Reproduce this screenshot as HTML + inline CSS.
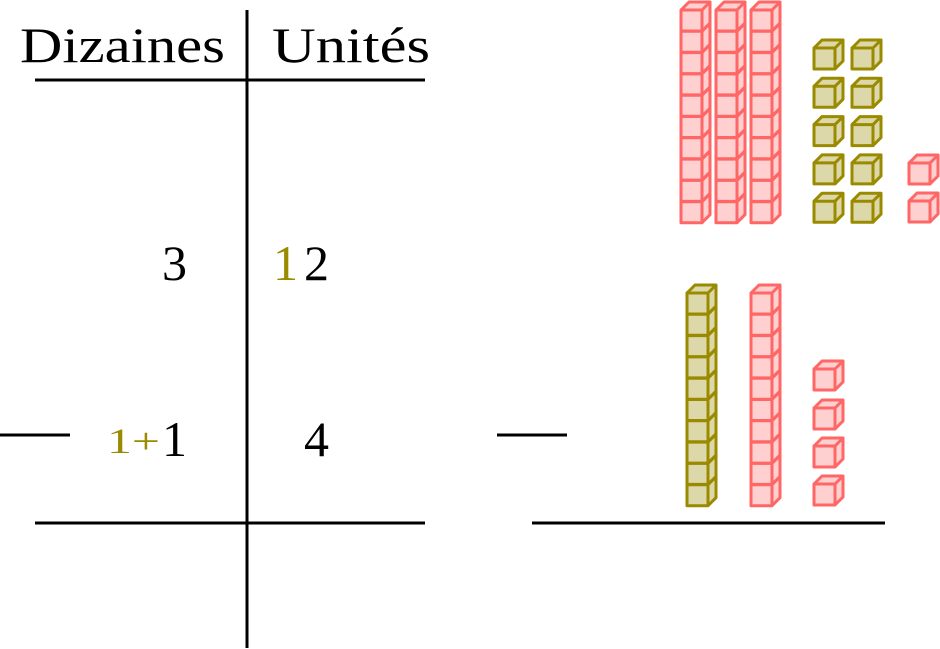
<!DOCTYPE html>
<html><head><meta charset="utf-8"><style>
body{margin:0;background:#fff}
svg{display:block}
text{font-family:"Liberation Serif",serif}
</style></head><body>
<svg id="s" width="940" height="649" viewBox="0 0 940 649" xmlns="http://www.w3.org/2000/svg">
<g stroke="#000" stroke-width="3">
<line x1="247" y1="10" x2="247" y2="648"/>
<line x1="35" y1="80" x2="425" y2="80"/>
<line x1="35" y1="523" x2="425" y2="523"/>
<line x1="532" y1="523" x2="885" y2="523"/>
<line x1="0" y1="435" x2="70" y2="435"/>
<line x1="497" y1="435" x2="567" y2="435"/>
</g>
<text x="20" y="62" font-size="50" textLength="205" lengthAdjust="spacingAndGlyphs">Dizaines</text>
<text x="272" y="62" font-size="50" textLength="158" lengthAdjust="spacingAndGlyphs">Unités</text>
<text x="162" y="280" font-size="50">3</text>
<text x="273" y="280" font-size="50" fill="#9a8a00">1</text>
<text x="304" y="280" font-size="50">2</text>
<text x="107" y="453" font-size="36" fill="#9a8a00" textLength="53" lengthAdjust="spacingAndGlyphs">1+</text>
<text x="162" y="456" font-size="50">1</text>
<text x="304" y="456" font-size="50">4</text>
<g id="c"></g>
</svg>
<script>
var g=document.getElementById('c'),h='';
var P={s:'#ff6666',f:'#ffd0d0'},O={s:'#9a8a00',f:'#ddd8aa'};
function cube(x,y,c){var s=21,d=8;
h+='<path d="M'+x+' '+y+'l'+d+' '+(-d)+'h'+s+'v'+s+'l'+(-d)+' '+d+'" fill="'+c.f+'" stroke="'+c.s+'" stroke-width="3" stroke-linejoin="round"/>';
h+='<path d="M'+(x+s)+' '+y+'l'+d+' '+(-d)+'" stroke="'+c.s+'" stroke-width="3" fill="none"/>';
h+='<rect x="'+x+'" y="'+y+'" width="'+s+'" height="'+s+'" fill="'+c.f+'" stroke="'+c.s+'" stroke-width="3" stroke-linejoin="round"/>';}
function rod(x,y,c){for(var i=9;i>=0;i--)cube(x,y+i*21.3,c);}
rod(681,10,P);rod(716,10,P);rod(751,10,P);
for(var r=0;r<5;r++){cube(814,48+r*38.3,O);cube(852,48+r*38.3,O);}
cube(909,163,P);cube(909,201,P);
rod(687,293,O);rod(751,293,P);
[369,408,446,484].forEach(function(y){cube(814,y,P)});
g.innerHTML=h;
</script>
</body></html>
